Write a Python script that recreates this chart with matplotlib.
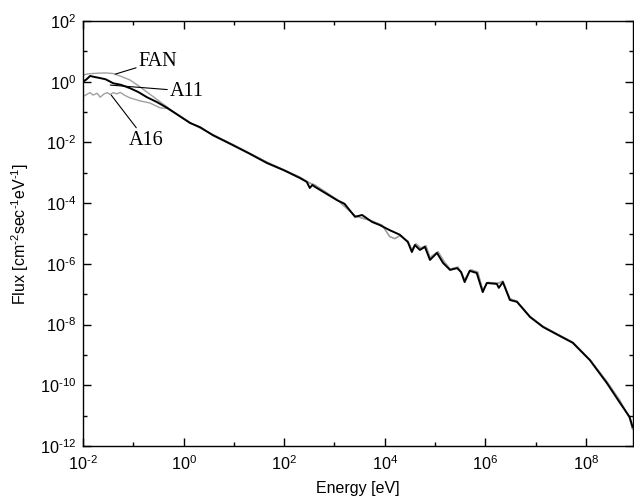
import numpy as np
import matplotlib
matplotlib.use("Agg")
import matplotlib.pyplot as plt
from matplotlib.ticker import FixedLocator, FuncFormatter, NullFormatter

plt.rcParams['font.family'] = ['Liberation Sans', 'DejaVu Sans']
plt.rcParams['axes.unicode_minus'] = False
plt.rcParams['mathtext.fontset'] = 'custom'
plt.rcParams['mathtext.rm'] = 'Liberation Sans'
plt.rcParams['mathtext.it'] = 'Liberation Sans'

# values, as log10(E [eV]) and log10(flux)
a11_logE = [-2.0, -1.98, -1.93, -1.86, -1.78, -1.66, -1.55, -1.40, -1.25, -1.07, -0.90, -0.73,
            -0.53, -0.33, -0.10, 0.13, 0.33, 0.58, 0.98, 1.30, 1.66, 2.0, 2.31, 2.45, 2.51,
            2.56, 2.61, 2.80, 3.05, 3.20, 3.41, 3.55, 3.75, 3.90, 4.10, 4.30, 4.46, 4.54,
            4.60, 4.70, 4.80, 4.90, 5.04, 5.16, 5.30, 5.44, 5.52, 5.59, 5.69, 5.83, 5.95,
            6.03, 6.23, 6.27, 6.35, 6.49, 6.63, 6.89, 7.15, 7.42, 7.74, 8.08, 8.42, 8.68,
            8.87, 8.93]
a11_logF = [0.06, 0.02, 0.08, 0.19, 0.16, 0.12, 0.08, -0.05, -0.10, -0.21, -0.34, -0.51,
            -0.67, -0.86, -1.11, -1.36, -1.50, -1.76, -2.09, -2.36, -2.68, -2.92, -3.17, -3.30,
            -3.50, -3.40, -3.46, -3.65, -3.90, -4.02, -4.45, -4.39, -4.62, -4.72, -4.89, -5.04,
            -5.28, -5.61, -5.38, -5.54, -5.44, -5.87, -5.64, -5.97, -6.20, -6.14, -6.27, -6.60,
            -6.23, -6.30, -6.93, -6.63, -6.66, -6.79, -6.60, -7.19, -7.25, -7.75, -8.08, -8.32,
            -8.60, -9.17, -9.93, -10.58, -11.04, -11.37]

fan_low_logE = [-2.0, -1.9, -1.72, -1.55, -1.40, -1.25, -1.07, -0.90, -0.73, -0.50, -0.33]
fan_low_logF = [0.22, 0.26, 0.28, 0.29, 0.27, 0.18, 0.06, -0.13, -0.34, -0.62, -0.83]

a16_low_logE = [-2.0, -1.93, -1.86, -1.80, -1.72, -1.66, -1.58, -1.52, -1.46, -1.40, -1.33,
                -1.26, -1.18, -1.07, -0.95, -0.87, -0.67, -0.47, -0.33]
a16_low_logF = [-0.49, -0.42, -0.36, -0.44, -0.38, -0.51, -0.40, -0.36, -0.42, -0.36, -0.40,
                -0.35, -0.44, -0.53, -0.59, -0.63, -0.70, -0.86, -0.88]

gray_tail_logE = [-0.20, 0.13, 0.58, 0.98, 1.66, 2.31, 2.50, 2.61, 3.05, 3.41, 3.75, 3.95,
                  4.10, 4.20, 4.30, 4.46, 4.54, 4.62, 4.72, 4.82, 4.90, 5.06, 5.18, 5.30,
                  5.46, 5.59, 5.71, 5.85, 5.95, 6.05, 6.25, 6.35, 6.49, 6.63, 6.89, 7.15,
                  7.42, 7.74, 8.08, 8.42, 8.68, 8.87, 8.93]
gray_tail_logF = [-0.99, -1.35, -1.74, -2.07, -2.65, -3.14, -3.33, -3.40, -3.88, -4.42, -4.59,
                  -4.73, -5.10, -5.17, -5.07, -5.25, -5.54, -5.34, -5.48, -5.40, -5.79, -5.60,
                  -5.92, -6.17, -6.11, -6.52, -6.19, -6.27, -6.87, -6.61, -6.64, -6.57, -7.15,
                  -7.23, -7.73, -8.06, -8.30, -8.58, -9.15, -9.88, -10.51, -11.08, -11.45]

fan_E = 10 ** np.array(fan_low_logE + gray_tail_logE)
fan_F = 10 ** np.array(fan_low_logF + gray_tail_logF)
a16_E = 10 ** np.array(a16_low_logE + gray_tail_logE)
a16_F = 10 ** np.array(a16_low_logF + gray_tail_logF)
a11_E = 10 ** np.array(a11_logE)
a11_F = 10 ** np.array(a11_logF)

fig = plt.figure(figsize=(6.34, 4.98), dpi=100)
ax = fig.add_axes([0.131, 0.1044, 0.8675, 0.8534])

gray = '#a0a0a0'
ax.plot(fan_E, fan_F, color=gray, lw=1.0)
ax.plot(a16_E, a16_F, color=gray, lw=1.0)
ax.plot(a11_E, a11_F, color='black', lw=1.4)

ax.set_xscale('log')
ax.set_yscale('log')
ax.set_xlim(1e-2, 8.7e8)
ax.set_ylim(1e-12, 1e2)

fmt = FuncFormatter(lambda v, p: r'$\mathregular{10^{\text{%d}}}$' % round(np.log10(v)))
ax.xaxis.set_major_locator(FixedLocator([10.0 ** k for k in range(-2, 9, 2)]))
ax.xaxis.set_minor_locator(FixedLocator([10.0 ** k for k in range(-1, 9, 2)]))
ax.yaxis.set_major_locator(FixedLocator([10.0 ** k for k in range(-12, 3, 2)]))
ax.yaxis.set_minor_locator(FixedLocator([10.0 ** k for k in range(-11, 2, 2)]))
ax.xaxis.set_major_formatter(fmt)
ax.yaxis.set_major_formatter(fmt)
ax.xaxis.set_minor_formatter(NullFormatter())
ax.yaxis.set_minor_formatter(NullFormatter())
ax.tick_params(which='both', direction='in', top=True, right=True, labelsize=11.7, width=1.0)
ax.tick_params(which='major', length=6, pad=5)
ax.tick_params(axis='x', which='major', pad=6)
ax.tick_params(which='minor', length=3)
for s in ax.spines.values():
    s.set_linewidth(1.0)

ax.set_xlabel('Energy [eV]', fontsize=11.5)
ax.xaxis.set_label_coords(0.5, -0.083)
ax.set_ylabel(r'Flux [cm$^{\text{-2}}$sec$^{\text{-1}}$eV$^{\text{-1}}$]', fontsize=11.5)
ax.yaxis.set_label_coords(-0.094, 0.5)

serif = ['Liberation Serif', 'DejaVu Serif']
arrow = dict(arrowstyle='-', color='black', lw=0.8, shrinkA=0, shrinkB=0)
ax.annotate('FAN', xy=(10 ** -1.36, 10 ** 0.25), xytext=(10 ** -0.89, 10 ** 0.68),
            fontsize=14.5, family=serif, va='center', ha='left', arrowprops=arrow)
ax.annotate('A11', xy=(10 ** -1.46, 10 ** -0.11), xytext=(10 ** -0.27, 10 ** -0.31),
            fontsize=14.5, family=serif, va='center', ha='left', arrowprops=arrow)
ax.annotate('A16', xy=(10 ** -1.44, 10 ** -0.44), xytext=(10 ** -1.10, 10 ** -1.92),
            fontsize=14.5, family=serif, va='center', ha='left', arrowprops=arrow)

fig.savefig('out.png', dpi=100)
